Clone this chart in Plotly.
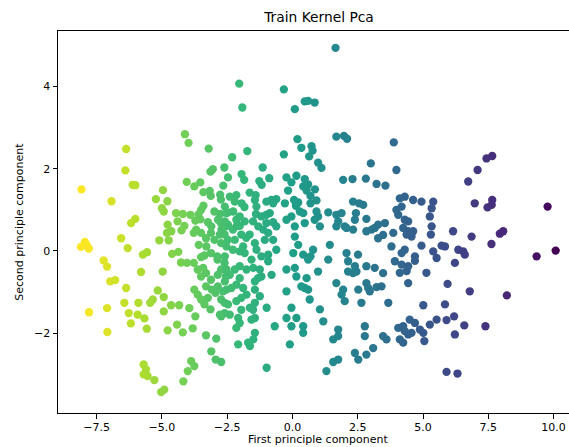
import plotly.graph_objects as go

# Estimated (first, second) principal-component coordinates, grouped by x region
group_a = [(-8.08, 1.50), (-6.93, 1.21), (-8.10, 0.10), (-7.95, 0.22), (-7.80, 0.06), (-7.88, 0.14),
           (-7.23, -0.23), (-7.10, -0.38), (-6.98, -0.74), (-6.79, -0.71), (-7.79, -1.49), (-7.10, -1.39),
           (-7.09, -1.97), (-6.37, 2.48), (-6.40, 1.96), (-6.12, 1.61), (-6.02, 1.60), (-6.18, 0.68),
           (-6.02, 0.78), (-6.56, 0.31), (-6.31, 0.07), (-6.37, -0.90), (-6.44, -1.26), (-6.27, -1.51),
           (-6.19, -1.76)]

group_b = [(-5.73, -0.09), (-5.57, -0.03), (-5.10, 0.26), (-4.74, 0.26), (-4.61, -0.07), (-4.37, -0.02),
           (-4.27, -0.28), (-4.04, -0.29), (-5.80, -0.51), (-4.97, -0.50), (-5.16, -0.96), (-4.93, -1.12),
           (-5.35, -1.18), (-5.45, -1.26), (-5.90, -1.26), (-5.93, -1.55), (-5.67, -1.64), (-5.58, -1.89),
           (-4.93, -1.47), (-4.65, -1.32), (-4.34, -1.32), (-4.78, -1.93), (-4.42, -1.79), (-4.20, -1.98),
           (-5.70, -2.76), (-5.61, -2.88), (-5.55, -3.04), (-5.70, -3.00), (-5.29, -3.14), (-5.03, -3.43),
           (-4.91, -3.37), (-4.01, -2.92), (-4.18, -3.17), (-4.12, 2.84), (-4.96, 1.48), (-5.23, 1.26),
           (-4.79, 1.21), (-5.00, 1.04), (-4.93, 0.96), (-4.05, 1.68), (-4.46, 0.92), (-4.20, 0.90),
           (-4.40, 0.72), (-4.14, 0.61), (-4.78, 0.64), (-4.81, 0.44), (-4.25, 0.50), (-4.64, 0.48)]

group_c = [(-3.98, 2.63), (-3.21, 2.49), (-3.76, 1.57), (-3.53, 1.67), (-3.91, 0.88), (-3.78, -0.29),
           (-3.95, -1.39), (-3.72, -1.59), (-3.82, -1.88), (-3.88, -2.68), (-3.76, -2.80),
           (-3.14, 1.93), (-3.05, 1.99), (-3.41, 1.43), (-3.17, 1.46), (-3.13, 1.34), (-2.61, 2.03),
           (-2.65, 1.59), (-2.77, 1.37), (-2.74, 1.25), (-3.41, 1.10), (-3.50, 1.00), (-3.60, 0.89),
           (-3.53, 0.77), (-3.72, 0.74), (-2.99, 0.96), (-2.77, 0.90), (-3.24, 0.70), (-2.74, 0.68),
           (-2.55, 0.60), (-3.78, 0.44), (-3.50, 0.44), (-3.31, 0.31), (-3.12, 0.44), (-2.99, 0.27),
           (-2.73, 0.19), (-2.60, 0.40), (-3.59, 0.15), (-3.50, -0.15), (-3.37, -0.11), (-3.63, -0.45),
           (-3.50, -0.62), (-3.31, -0.54), (-3.12, -0.70), (-3.31, -0.86), (-3.09, -0.94), (-3.76, -0.94),
           (-3.63, -1.06), (-3.50, -1.18), (-3.37, -1.30), (-3.24, -1.14), (-3.14, -1.42), (-2.73, -1.59),
           (-2.60, -1.51), (-2.86, -0.86), (-2.66, -0.98), (-2.73, -1.18), (-2.60, -1.26), (-2.87, -0.21),
           (-2.60, -0.29), (-2.73, -0.45), (-2.55, -0.62), (-2.86, -0.58), (-3.12, -0.05), (-2.88, -0.13),
           (-3.31, -2.05), (-2.92, -2.13), (-3.11, -2.44), (-2.94, -2.64), (-2.73, -2.70),
           (-3.69, 0.52), (-3.11, 0.60), (-3.30, 0.11), (-2.85, 0.76), (-2.59, 1.08), (-2.72, 0.52),
           (-2.78, 0.40), (-3.42, -0.41), (-2.95, -1.02), (-2.59, -0.74), (-2.78, -1.55), (-2.59, 0.72),
           (-2.66, 0.44), (-2.59, -0.13), (-2.53, -0.45), (-2.53, -0.94)]

group_d = [(-2.47, 0.94), (-2.47, 0.64), (-2.28, 0.52), (-2.15, 0.76), (-2.02, 0.61), (-2.21, 0.27),
           (-2.53, 0.11), (-2.28, 0.03), (-2.02, -0.01), (-1.89, 0.11), (-1.77, 0.32), (-1.64, 0.40),
           (-2.40, -0.58), (-2.21, -0.45), (-2.02, -0.66), (-2.15, -0.82), (-2.34, -0.90), (-1.89, -0.90),
           (-2.47, -1.30), (-2.15, -1.22), (-1.76, -1.06), (-1.44, -0.94), (-1.25, -1.10), (-1.44, -1.26),
           (-2.40, -1.55), (-1.96, -1.43), (-1.63, -1.38), (-2.08, -1.63), (-2.02, -1.75), (-2.15, -1.87),
           (-1.44, -1.63), (-1.44, -1.99), (-1.50, -2.15), (-2.08, -2.27), (-1.70, -2.23), (-1.63, -2.31),
           (-0.99, -1.38), (-0.68, -1.83), (-0.99, -2.84), (-0.93, -0.25), (-0.80, -0.58), (-1.19, -0.62),
           (-1.50, -0.41), (-1.44, -0.74), (-0.23, -0.45), (-0.23, -0.98), (-0.04, -1.38), (-0.23, -1.63),
           (-0.04, -1.83), (-0.10, -2.27),
           (-2.47, 0.27), (-1.96, 0.40), (-1.44, 0.19), (-0.93, -0.09), (-1.57, -0.21), (-1.83, -0.05),
           (-1.76, -0.45), (-2.02, -0.37), (-1.25, -0.45), (-1.32, -0.66), (-1.96, -1.14), (-1.51, -1.43),
           (-1.57, -1.67), (-1.51, 0.72),
           (-2.31, 2.28), (-1.73, 2.43), (-0.33, 2.35), (-2.04, 4.07), (-0.33, 3.93), (-1.92, 3.49),
           (-2.47, 1.79), (-1.95, 1.87), (-1.85, 1.73), (-1.14, 2.03), (-1.27, 1.70), (-1.18, 1.61),
           (-0.89, 1.77), (-1.64, 1.42), (-1.41, 1.36), (-2.40, 1.32), (-2.15, 1.36), (-2.21, 1.20),
           (-1.95, 1.16), (-1.84, 1.07), (-1.44, 1.24), (-1.38, 1.08), (-1.00, 1.20), (-0.81, 1.24),
           (-0.62, 1.26), (-0.29, 1.16), (-2.27, 0.96), (-2.53, 0.92), (-2.02, 0.84), (-1.83, 0.72),
           (-2.15, 0.60), (-0.74, 1.16), (-1.40, 0.90), (-1.19, 0.84), (-1.00, 0.88), (-0.87, 0.92),
           (-0.74, 0.70), (-0.62, 0.60), (-1.00, 0.68), (-1.31, 0.60), (-1.12, 0.52), (-0.93, 0.44),
           (-1.06, 0.27), (-0.74, 0.27), (-0.62, 0.03), (-1.38, 0.03), (-1.19, -0.13), (-0.23, 0.76),
           (-0.04, 0.84), (-0.23, 1.79), (-0.04, 1.67), (-0.17, 1.47)]

group_e = [(0.09, 0.60), (0.41, 0.92), (0.47, 0.68), (0.09, 0.35), (0.22, 0.15), (0.03, -0.05),
           (0.41, -0.09), (0.09, -0.41), (0.15, -0.62), (0.54, -0.66), (0.47, -0.90), (0.15, -1.63),
           (0.41, -1.83), (0.41, -1.99),
           (0.15, 1.83), (0.47, 1.75), (0.54, 1.47), (0.06, 1.24), (0.22, 1.18), (0.60, 1.62), (0.41, 1.57),
           (1.65, 4.94), (0.09, 3.45), (0.47, 3.64), (0.60, 3.65), (0.85, 3.61), (0.19, 2.72), (0.34, 2.51),
           (0.73, 2.55), (0.77, 2.44), (0.64, 2.30), (0.98, 2.15), (1.11, 2.02), (1.68, 2.78), (1.97, 2.80),
           (2.09, 2.73), (3.00, 2.13), (1.94, 1.73), (2.30, 1.75), (2.81, 1.76),
           (0.13, 1.10), (0.28, 0.96), (0.69, 1.16), (0.92, 1.23), (0.92, 0.96), (0.98, 0.84), (0.85, 0.76),
           (1.37, 0.94), (1.68, 0.88), (1.88, 0.92), (1.75, 0.72), (1.68, 0.60), (2.00, 0.60), (2.43, 0.92),
           (2.39, 0.76), (2.83, 0.78), (2.32, 1.20), (2.55, 1.16), (2.71, 1.12), (1.05, 0.60), (0.86, 1.50),
           (0.69, 1.34),
           (0.34, -0.86), (0.60, -0.94), (0.66, -1.18), (0.69, -0.13), (0.79, 0.03), (0.60, -0.21),
           (0.98, -0.50), (1.05, -1.42), (1.18, -1.71), (1.37, -0.21), (1.43, 0.15), (2.07, 0.56),
           (1.68, -0.78), (1.94, -0.94), (2.00, -1.22), (1.88, -1.06), (1.75, -1.91), (1.56, -2.15),
           (1.56, -2.70), (1.75, -2.64), (1.30, -2.92),
           (2.07, -0.05), (2.13, -0.25), (2.39, -0.37), (2.45, -0.50), (2.32, -0.54), (2.13, -0.50),
           (2.52, -0.94), (2.83, -0.78), (2.90, -0.90), (2.96, -0.98), (2.83, -0.37), (2.32, 0.52),
           (2.83, 0.48), (2.51, -0.09),
           (2.64, -1.26), (2.77, -1.83), (2.77, -2.07), (2.83, -2.52), (2.39, -2.48), (2.52, -2.64),
           (1.75, -2.07)]

group_f = [(3.22, 1.63), (3.56, 1.59), (3.88, 2.64), (3.98, 1.97), (3.03, 0.52), (3.15, 0.56), (3.28, 0.31),
           (3.28, 0.64), (3.54, 0.68), (3.86, 0.44), (3.79, 0.11), (3.47, 0.39),
           (4.11, 1.28), (4.30, 1.32), (4.18, 1.08), (3.98, 1.00), (4.05, 0.88), (4.30, 0.76), (4.43, 0.72),
           (4.24, 0.56), (4.62, 1.24), (4.94, 1.20), (5.39, 1.20), (5.33, 1.04), (5.26, 0.84), (4.43, 0.48),
           (4.62, 0.48), (4.37, 0.40), (4.56, 0.35), (5.33, 0.60), (5.30, 0.40), (4.94, 0.13), (4.30, 0.03),
           (4.18, -0.05), (4.69, -0.13), (5.39, -0.01),
           (3.15, -0.41), (3.47, -0.54), (3.09, -2.36), (3.47, -2.07), (3.60, -2.15), (3.67, -1.26),
           (3.22, -0.88), (3.41, -0.86),
           (3.92, -0.25), (4.18, -0.33), (4.43, -0.37), (4.69, -0.24), (4.37, -0.49), (4.11, -0.53),
           (5.52, -0.17), (5.13, -0.53), (4.43, -0.78), (5.01, -1.32),
           (4.05, -1.87), (4.24, -1.83), (4.30, -1.95), (4.11, -2.15), (4.24, -2.23), (4.43, -2.03),
           (4.56, -1.99), (4.49, -1.67), (4.69, -1.75), (4.88, -1.91), (5.01, -1.99), (5.05, -2.19),
           (5.26, -1.79), (5.52, -1.67)]

group_g = [(7.09, 1.97), (6.73, 1.69), (6.98, 1.16), (6.86, 0.35), (6.15, 0.48), (5.71, 0.13), (5.84, 0.11),
           (6.35, 0.03), (6.54, -0.01), (6.22, -0.29), (6.60, -0.09), (5.94, -0.80), (6.79, -0.98),
           (5.84, -1.30), (5.90, -1.68), (6.19, -1.59), (6.58, -1.81), (6.22, -2.03), (5.90, -2.94),
           (6.32, -2.98), (7.43, 2.25), (7.65, 2.31), (7.47, 1.06), (7.63, 1.12), (7.65, 1.24),
           (9.77, 1.08), (7.62, 0.17), (7.94, 0.42), (8.07, 0.48), (9.35, -0.13), (10.08, 0.01),
           (8.21, -1.08), (7.39, -1.83)]

x_ticks = [-7.5, -5.0, -2.5, 0.0, 2.5, 5.0, 7.5, 10.0]
y_ticks = [-2, 0, 2, 4]

points = group_a + group_b + group_c + group_d + group_e + group_f + group_g
xs = [p[0] for p in points]
ys = [p[1] for p in points]

W, H = 569, 447
L, T, B = 58.3, 31.0, 33.5
FONT = "DejaVu Sans"
TXT = "#000000"

fig = go.Figure(go.Scatter(
    x=xs, y=ys, mode="markers",
    marker=dict(size=8.3, color=xs, colorscale="Viridis", reversescale=True,
                cmin=-8.0, cmax=10.1, line=dict(width=0), opacity=1),
    hoverinfo="skip", showlegend=False,
))

axis_common = dict(
    showgrid=False, zeroline=False, showline=True, linecolor="#000000", linewidth=1,
    ticks="outside", ticklen=4.5, tickwidth=1, tickcolor="#000000",
    tickfont=dict(family=FONT, size=11, color=TXT),
)

fig.update_layout(
    width=W, height=H,
    margin=dict(l=L, r=0, t=T, b=B, pad=0),
    paper_bgcolor="white", plot_bgcolor="white",
    font=dict(family=FONT, color=TXT),
    title=dict(text="Train Kernel Pca", x=319 / W, xref="container", xanchor="center",
               y=1 - 17.5 / H, yref="container", yanchor="middle",
               font=dict(family=FONT, size=13.8, color=TXT)),
    xaxis=dict(range=[-8.98, 10.59], tickvals=x_ticks, tickformat=".1f", mirror=True,
               ticklabelstandoff=-1, **axis_common),
    yaxis=dict(range=[-3.94, 5.35], tickvals=y_ticks, mirror=False, **axis_common),
    annotations=[
        dict(text="First principle component", xref="paper", yref="paper",
             x=(319 - L) / (W - L), y=(H - B - 440.5) / (H - T - B), xanchor="center", yanchor="middle",
             showarrow=False, font=dict(family=FONT, size=11, color=TXT)),
        dict(text="Second principle component", xref="paper", yref="paper",
             x=(19 - L) / (W - L), y=0.5, xanchor="center", yanchor="middle", textangle=-90,
             showarrow=False, font=dict(family=FONT, size=11, color=TXT)),
    ],
)

fig.write_html("out.html", config={"displayModeBar": False},
               post_script="document.body.style.margin='0';document.body.style.overflow='hidden';")
